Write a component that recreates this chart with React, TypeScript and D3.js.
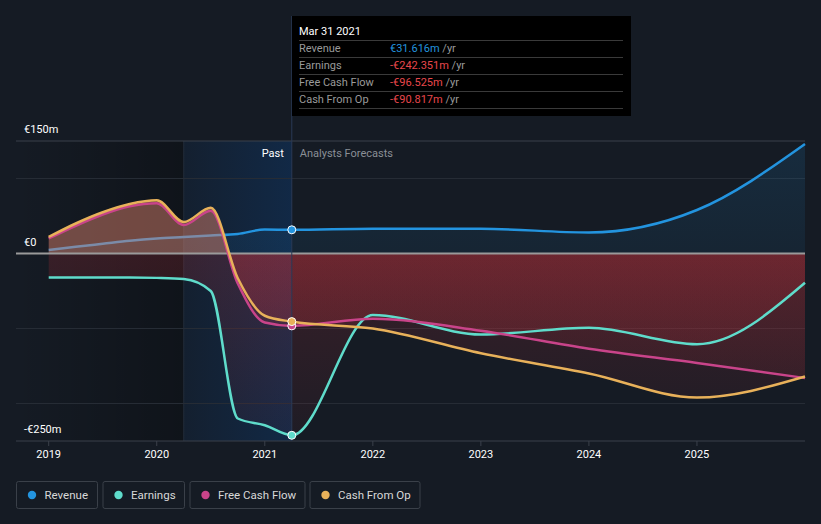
import React from "react";
import * as d3 from "d3";

const histYears = [2019.0, 2019.25, 2019.5, 2019.75, 2020.0, 2020.25, 2020.5, 2020.75, 2021.0, 2021.25];
const foreYears = [2021.25, 2022, 2023, 2024, 2025, 2026];

const revenueHist = [4.7, 9, 13, 17, 20, 22, 24, 26, 32, 31.6];
const revenueFore = [31.6, 33, 33, 28, 58, 146];
const earningsHist = [-32, -32, -32, -32, -32.5, -34, -50, -220, -229, -242.4];
const earningsFore = [-242.4, -82, -108, -99, -121, -39];
const fcfHist = [20, 37, 52, 63, 67, 38, 57, -40, -92, -96.5];
const fcfFore = [-96.5, -87, -103, -127, -146, -166];
const cfoHist = [22, 40, 55, 66, 71, 42, 61, -33, -83, -90.8];
const cfoFore = [-90.8, -100, -133, -160, -192, -164];

const yearTicks = [2019, 2020, 2021, 2022, 2023, 2024, 2025];
const yTickLabels = [
  { v: 150, t: "€150m" },
  { v: 0, t: "€0" },
  { v: -250, t: "-€250m" },
];
const gridValues = [100, -100, -200];

const seriesNames = ["Revenue", "Earnings", "Free Cash Flow", "Cash From Op"];
const seriesColors = ["#2394df", "#5fdccb", "#c9448a", "#e8b15a"];
const tooltipValues = ["€31.616m", "-€242.351m", "-€96.525m", "-€90.817m"];

const W = 821;
const H = 524;
const FONT = "Roboto, 'Noto Sans', sans-serif";

export default function App() {
  const x = d3.scaleLinear().domain([2019, 2026]).range([48.7, 805]);
  const y = d3.scaleLinear().domain([-250, 150]).range([441, 141]);
  const left = 16;
  const right = 805;
  const nowX = x(2021.25);
  const pastStart = x(2020.25);

  const mk = (h: number[], f: number[]) => {
    const pts: [number, number][] = histYears.map((yr, i) => [yr, h[i]]);
    f.slice(1).forEach((v, i) => pts.push([foreYears[i + 1], v]));
    return pts;
  };
  const series = [
    mk(revenueHist, revenueFore),
    mk(earningsHist, earningsFore),
    mk(fcfHist, fcfFore),
    mk(cfoHist, cfoFore),
  ];

  const line = d3
    .line<[number, number]>()
    .x((d) => x(d[0]))
    .y((d) => y(d[1]))
    .curve(d3.curveMonotoneX);
  const area = d3
    .area<[number, number]>()
    .x((d) => x(d[0]))
    .y0(y(0))
    .y1((d) => y(d[1]))
    .curve(d3.curveMonotoneX);

  const y0 = y(0);

  return (
    <div style={{ position: "fixed", left: 0, top: 0, width: W, height: H, background: "#151b24" }}>
      <svg width={W} height={H} style={{ display: "block", fontFamily: FONT }}>
        <defs>
          <linearGradient id="darkPast" x1="0" x2="1" y1="0" y2="0">
            <stop offset="0" stopColor="#000" stopOpacity="0" />
            <stop offset="1" stopColor="#000" stopOpacity="0.28" />
          </linearGradient>
          <linearGradient id="bluePast" x1="0" x2="1" y1="0" y2="0">
            <stop offset="0" stopColor="#0d3a70" stopOpacity="0.15" />
            <stop offset="1" stopColor="#0d3a70" stopOpacity="0.45" />
          </linearGradient>
          <linearGradient id="redGrad" gradientUnits="userSpaceOnUse" x1="0" x2="0" y1={y0} y2={y(-250)}>
            <stop offset="0" stopColor="#c8323c" stopOpacity="0.2" />
            <stop offset="1" stopColor="#c8323c" stopOpacity="0.05" />
          </linearGradient>
          <linearGradient id="blueGrad" gradientUnits="userSpaceOnUse" x1="0" x2="0" y1={y(150)} y2={y0}>
            <stop offset="0" stopColor="#2394df" stopOpacity="0.14" />
            <stop offset="1" stopColor="#2394df" stopOpacity="0.08" />
          </linearGradient>
          <clipPath id="above">
            <rect x={0} y={0} width={W} height={y0} />
          </clipPath>
          <clipPath id="below">
            <rect x={0} y={y0} width={W} height={H - y0} />
          </clipPath>
        </defs>

        {/* past shading */}
        <rect x={left} y={y(150)} width={pastStart - left} height={y(-250) - y(150)} fill="url(#darkPast)" />
        <rect x={pastStart} y={y(150)} width={nowX - pastStart} height={y(-250) - y(150)} fill="url(#bluePast)" />
        <line x1={pastStart} x2={pastStart} y1={y(150)} y2={y(-250)} stroke="#222c3a" strokeWidth={1} />

        {/* grid */}
        {gridValues.map((v) => (
          <line key={v} x1={left} x2={right} y1={y(v)} y2={y(v)} stroke="#262c35" strokeWidth={1.2} />
        ))}
        <line x1={left} x2={right} y1={y(150)} y2={y(150)} stroke="#3b414b" strokeWidth={1} />
        <line x1={left} x2={right} y1={y(-250)} y2={y(-250)} stroke="#3b414b" strokeWidth={1} />
        {yearTicks.map((t) => (
          <line key={t} x1={x(t)} x2={x(t)} y1={y(-250)} y2={y(-250) + 5} stroke="#3b414b" strokeWidth={1} />
        ))}

        {/* revenue */}
        <path d={area(series[0]) || ""} fill="url(#blueGrad)" clipPath="url(#above)" />
        <path d={line(series[0]) || ""} fill="none" stroke={seriesColors[0]} strokeWidth={2.5} />

        {/* other areas */}
        {[1, 2, 3].map((i) => (
          <g key={i}>
            <path d={area(series[i]) || ""} fill={seriesColors[i]} fillOpacity={0.28} clipPath="url(#above)" />
            <path d={area(series[i]) || ""} fill="url(#redGrad)" clipPath="url(#below)" />
          </g>
        ))}

        {/* zero line */}
        <line x1={left} x2={right} y1={y0} y2={y0} stroke="#9a9a9a" strokeWidth={2} />

        {/* lines */}
        {[1, 2, 3].map((i) => (
          <path key={i} d={line(series[i]) || ""} fill="none" stroke={seriesColors[i]} strokeWidth={2.5} />
        ))}

        {/* now line */}
        <line x1={nowX} x2={nowX} y1={16} y2={y(-250)} stroke="#2a3a55" strokeWidth={1} />

        {/* dots */}
        {[0, 1, 2, 3].map((i) => (
          <circle
            key={i}
            cx={nowX}
            cy={y(series[i][histYears.length - 1][1])}
            r={4}
            fill={seriesColors[i]}
            stroke="#ffffff"
            strokeWidth={1}
          />
        ))}

        {/* y labels */}
        {yTickLabels.map((d) => (
          <text key={d.v} x={24} y={y(d.v) - 8} fill="#ffffff" fontSize={11}>
            {d.t}
          </text>
        ))}

        {/* x labels */}
        {yearTicks.map((t) => (
          <text key={t} x={x(t)} y={458} fill="#ffffff" fontSize={11} textAnchor="middle">
            {t}
          </text>
        ))}

        <text x={nowX - 8} y={157} fill="#ffffff" fontSize={11} textAnchor="end">
          Past
        </text>
        <text x={nowX + 8} y={157} fill="#8a8f96" fontSize={11}>
          Analysts Forecasts
        </text>

        {/* tooltip */}
        <rect x={292} y={16} width={339} height={100} fill="#000000" />
        <text x={299} y={35} fill="#ffffff" fontSize={11}>
          Mar 31 2021
        </text>
        {seriesNames.map((n, i) => (
          <g key={n}>
            <line x1={299} x2={623} y1={40.5 + i * 17} y2={40.5 + i * 17} stroke="#3a3a3a" strokeWidth={1} />
            <text x={299} y={52 + i * 17} fill="#9a9a9a" fontSize={11}>
              {n}
            </text>
            <text x={390} y={52 + i * 17} fontSize={11}>
              <tspan fill={i === 0 ? "#2394df" : "#e8474c"}>{tooltipValues[i]}</tspan>
              <tspan fill="#9a9a9a"> /yr</tspan>
            </text>
          </g>
        ))}
        <line x1={299} x2={623} y1={108.5} y2={108.5} stroke="#3a3a3a" strokeWidth={1} />

        {/* legend */}
        {(() => {
          const boxes = [
            { x: 16, w: 81 },
            { x: 102.5, w: 81.5 },
            { x: 189.5, w: 115 },
            { x: 309.5, w: 110 },
          ];
          return seriesNames.map((n, i) => (
            <g key={n}>
              <rect
                x={boxes[i].x + 0.5}
                y={481.5}
                width={boxes[i].w}
                height={27}
                rx={2}
                fill="none"
                stroke="#3a4049"
                strokeWidth={1}
              />
              <circle cx={boxes[i].x + 16} cy={495} r={4.2} fill={seriesColors[i]} />
              <text x={boxes[i].x + 28.5} y={499} fill="#d8d8d8" fontSize={11.5}>
                {n}
              </text>
            </g>
          ));
        })()}
      </svg>
    </div>
  );
}
